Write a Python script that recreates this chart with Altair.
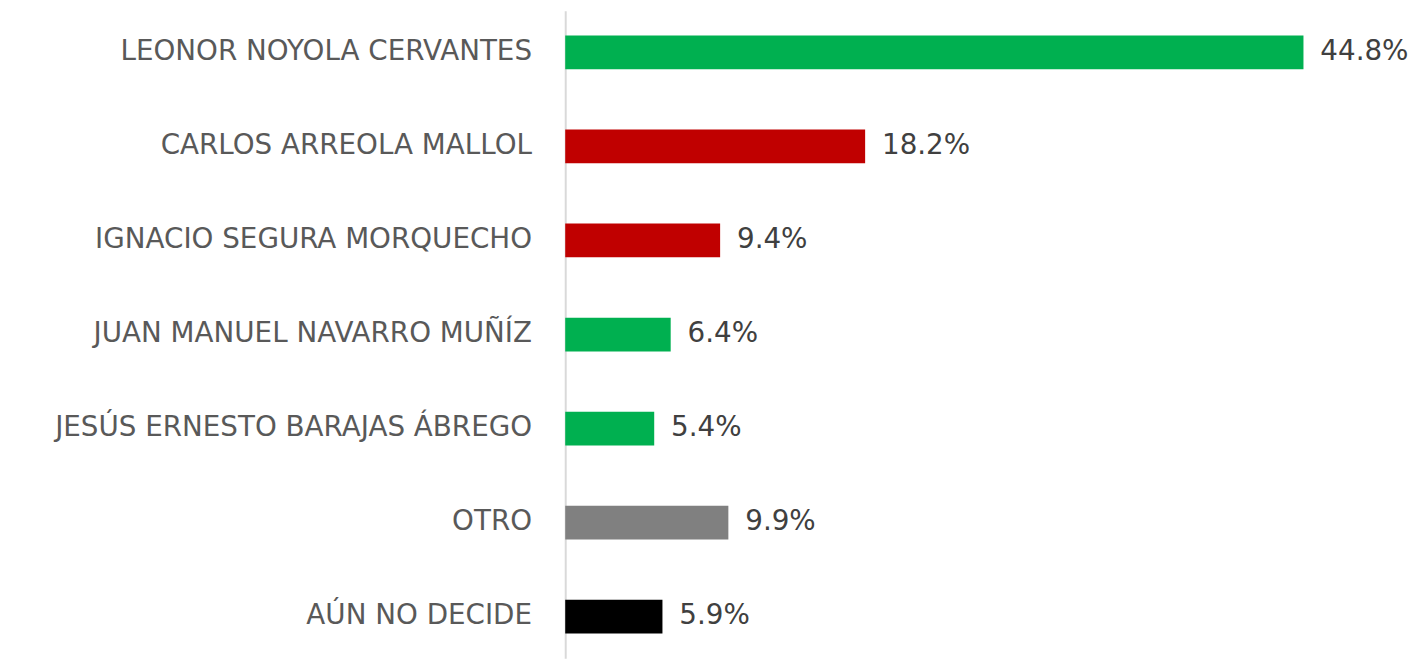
import altair as alt
import pandas as pd

candidates = [
    "LEONOR NOYOLA CERVANTES",
    "CARLOS ARREOLA MALLOL",
    "IGNACIO SEGURA MORQUECHO",
    "JUAN MANUEL NAVARRO MUÑÍZ",
    "JESÚS ERNESTO BARAJAS ÁBREGO",
    "OTRO",
    "AÚN NO DECIDE",
]
values = [44.8, 18.2, 9.4, 6.4, 5.4, 9.9, 5.9]
colors = ["#00B050", "#C00000", "#C00000", "#00B050", "#00B050", "#808080", "#000000"]

df = pd.DataFrame({"candidate": candidates, "value": values, "color": colors})
df["label"] = df["value"].map(lambda v: f"{v:.1f}%")

FONT = "DejaVu Sans"

y = alt.Y(
    "candidate:N",
    sort=candidates,
    title=None,
    scale=alt.Scale(paddingInner=0.641, paddingOuter=0.264),
    axis=alt.Axis(
        ticks=False,
        domain=True,
        domainColor="#D9D9D9",
        domainWidth=2,
        labelFont=FONT,
        labelFontSize=28,
        labelColor="#595959",
        labelPadding=34,
        labelLimit=1000,
        grid=False,
    ),
)
x = alt.X("value:Q", scale=alt.Scale(domain=[0, 49.7], nice=False), axis=None)

bars = alt.Chart(df).mark_bar().encode(
    x=x, y=y, color=alt.Color("color:N", scale=None)
)
text = alt.Chart(df).mark_text(
    align="left", baseline="middle", dx=17, font=FONT, fontSize=28, color="#404040"
).encode(x=x, y=y, text="label:N")

chart = (
    alt.layer(bars, text)
    .properties(width=826, height=653, padding={"left": 46, "top": 0, "right": 0, "bottom": 0})
    .configure_view(stroke=None)
)
chart.save("out.html", embed_options={"renderer": "svg", "actions": False})
